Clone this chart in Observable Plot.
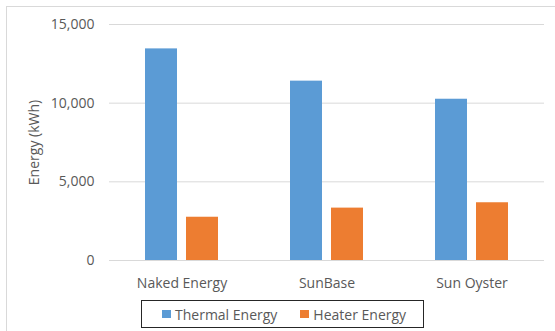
<!DOCTYPE html>
<html>
<head>
<meta charset="utf-8">
<script src="https://cdn.jsdelivr.net/npm/d3@7"></script>
<script src="https://cdn.jsdelivr.net/npm/@observablehq/plot@0.6"></script>
<style>
  html, body { margin: 0; padding: 0; background: #fff; }
  #chart { position: relative; width: 555px; height: 331px; overflow: hidden; font-family: "Open Sans", sans-serif; }
  #frame { position: absolute; left: 6px; top: 6px; width: 600px; height: 400px; border: 1px solid #d9d9d9; box-sizing: border-box; }
  #plot { position: absolute; left: 0; top: 0; }
  #legend {
    position: absolute; left: 141px; top: 300px; width: 283px; height: 28px;
    box-sizing: border-box; border: 1.5px solid #262626; background: #fff;
    display: flex; align-items: center; padding-left: 20px;
    font-size: 14px; color: #595959; white-space: nowrap;
  }
  .item { display: flex; align-items: center; margin-right: 23px; white-space: nowrap; }
  .swatch { width: 8.5px; height: 8.5px; margin-right: 4.5px; flex: none; }
</style>
</head>
<body>
<div id="chart">
  <div id="frame"></div>
  <div id="plot"></div>
  <div id="legend"></div>
</div>
<script>
// Annual energy by system (kWh)
const categories = ["Naked Energy", "SunBase", "Sun Oyster"];
const seriesNames = ["Thermal Energy", "Heater Energy"];
const thermal = [13450, 11400, 10250];
const heater = [2750, 3330, 3670];
const yTicks = [0, 5000, 10000, 15000];
const colors = ["#5b9bd5", "#ed7d31"];

const rows = categories.flatMap((c, i) => [
  {category: c, series: seriesNames[0], value: thermal[i]},
  {category: c, series: seriesNames[1], value: heater[i]}
]);

const comma = d3.format(",");

const chart = Plot.plot({
  width: 555,
  height: 295,
  marginTop: 24,
  marginBottom: 35,
  marginLeft: 108,
  marginRight: 11,
  style: {fontFamily: "'Open Sans', sans-serif", fontSize: "14px", color: "#595959", background: "transparent"},
  fx: {domain: categories, padding: 0},
  x: {domain: seriesNames, paddingInner: 0.21, paddingOuter: 0.85, axis: null},
  y: {domain: [0, 15000]},
  color: {domain: seriesNames, range: colors},
  marks: [
    Plot.ruleY(yTicks, {stroke: "#d9d9d9", strokeWidth: 1}),
    Plot.barY(rows, {fx: "category", x: "series", y: "value", fill: "series"}),
    Plot.axisY({ticks: yTicks, tickSize: 0, tickPadding: 15, tickFormat: comma,
      label: "Energy (kWh)", labelAnchor: "center", labelArrow: "none", labelOffset: 80}),
    Plot.axisFx({anchor: "bottom", tickSize: 0, tickPadding: 18, label: null})
  ]
});
document.getElementById("plot").appendChild(chart);

const legend = document.getElementById("legend");
seriesNames.forEach((name, i) => {
  const item = document.createElement("div");
  item.className = "item";
  const sw = document.createElement("span");
  sw.className = "swatch";
  sw.style.background = colors[i];
  const label = document.createElement("span");
  label.textContent = name;
  item.appendChild(sw);
  item.appendChild(label);
  legend.appendChild(item);
});
</script>
</body>
</html>
